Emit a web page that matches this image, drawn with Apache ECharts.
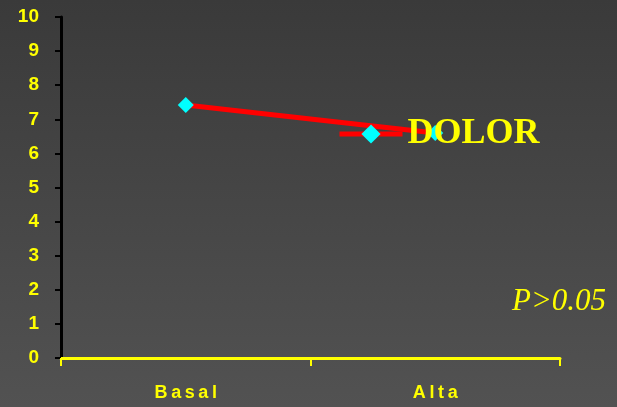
<!DOCTYPE html>
<html>
<head>
<meta charset="utf-8">
<script src="https://cdn.jsdelivr.net/npm/echarts@6/dist/echarts.min.js"></script>
<style>
  html, body { margin: 0; padding: 0; }
  #chart { width: 617px; height: 407px; }
</style>
</head>
<body>
<div id="chart"></div>
<script>
// data
var categories = ["Basal", "Alta"];
var dolorValues = [7.42, 6.6];
var seriesName = "DOLOR";
var note = "P>0.05";

var chart = echarts.init(document.getElementById("chart"));
chart.setOption({
  backgroundColor: {
    type: "linear", x: 0, y: 0, x2: 0, y2: 1,
    colorStops: [
      { offset: 0, color: "#3a3a3a" },
      { offset: 1, color: "#525252" }
    ]
  },
  animation: false,
  grid: { left: 61, right: 57, top: 17, bottom: 49 },
  legend: {
    data: [seriesName],
    left: 337,
    top: 116,
    itemWidth: 63,
    itemHeight: 24,
    itemGap: 0,
    padding: 0,
    lineStyle: { width: 5, color: "#ff0000" },
    textStyle: {
      color: "#ffff00",
      fontFamily: "Liberation Serif",
      fontWeight: "bold",
      fontSize: 36,
      padding: [4, 0, 0, 0]
    }
  },
  graphic: [{
    type: "text",
    left: 512,
    top: 286,
    style: {
      text: note,
      fill: "#ffff00",
      font: "italic 31px 'Liberation Serif'"
    }
  }],
  xAxis: {
    type: "category",
    data: categories,
    boundaryGap: true,
    axisLine: { lineStyle: { color: "#ffff00", width: 3 } },
    axisTick: { show: true, length: 8, lineStyle: { color: "#ffff00", width: 2 } },
    axisLabel: {
      color: "#ffff00",
      fontFamily: "Liberation Sans",
      fontWeight: "bold",
      fontSize: 18,
      margin: 26,
      formatter: function (v) { return v.split("").join("\u2009"); }
    }
  },
  yAxis: {
    type: "value",
    min: 0,
    max: 10,
    interval: 1,
    splitLine: { show: false },
    axisLine: { show: true, lineStyle: { color: "#000000", width: 3 } },
    axisTick: { show: true, length: 6, lineStyle: { color: "#000000", width: 2 } },
    axisLabel: {
      color: "#ffff00",
      fontFamily: "Liberation Sans",
      fontWeight: "bold",
      fontSize: 19,
      margin: 22
    }
  },
  series: [{
    name: seriesName,
    type: "line",
    data: dolorValues,
    symbol: "diamond",
    symbolSize: 16,
    itemStyle: { color: "#00ffff" },
    lineStyle: { color: "#ff0000", width: 5 }
  }]
});
</script>
</body>
</html>
